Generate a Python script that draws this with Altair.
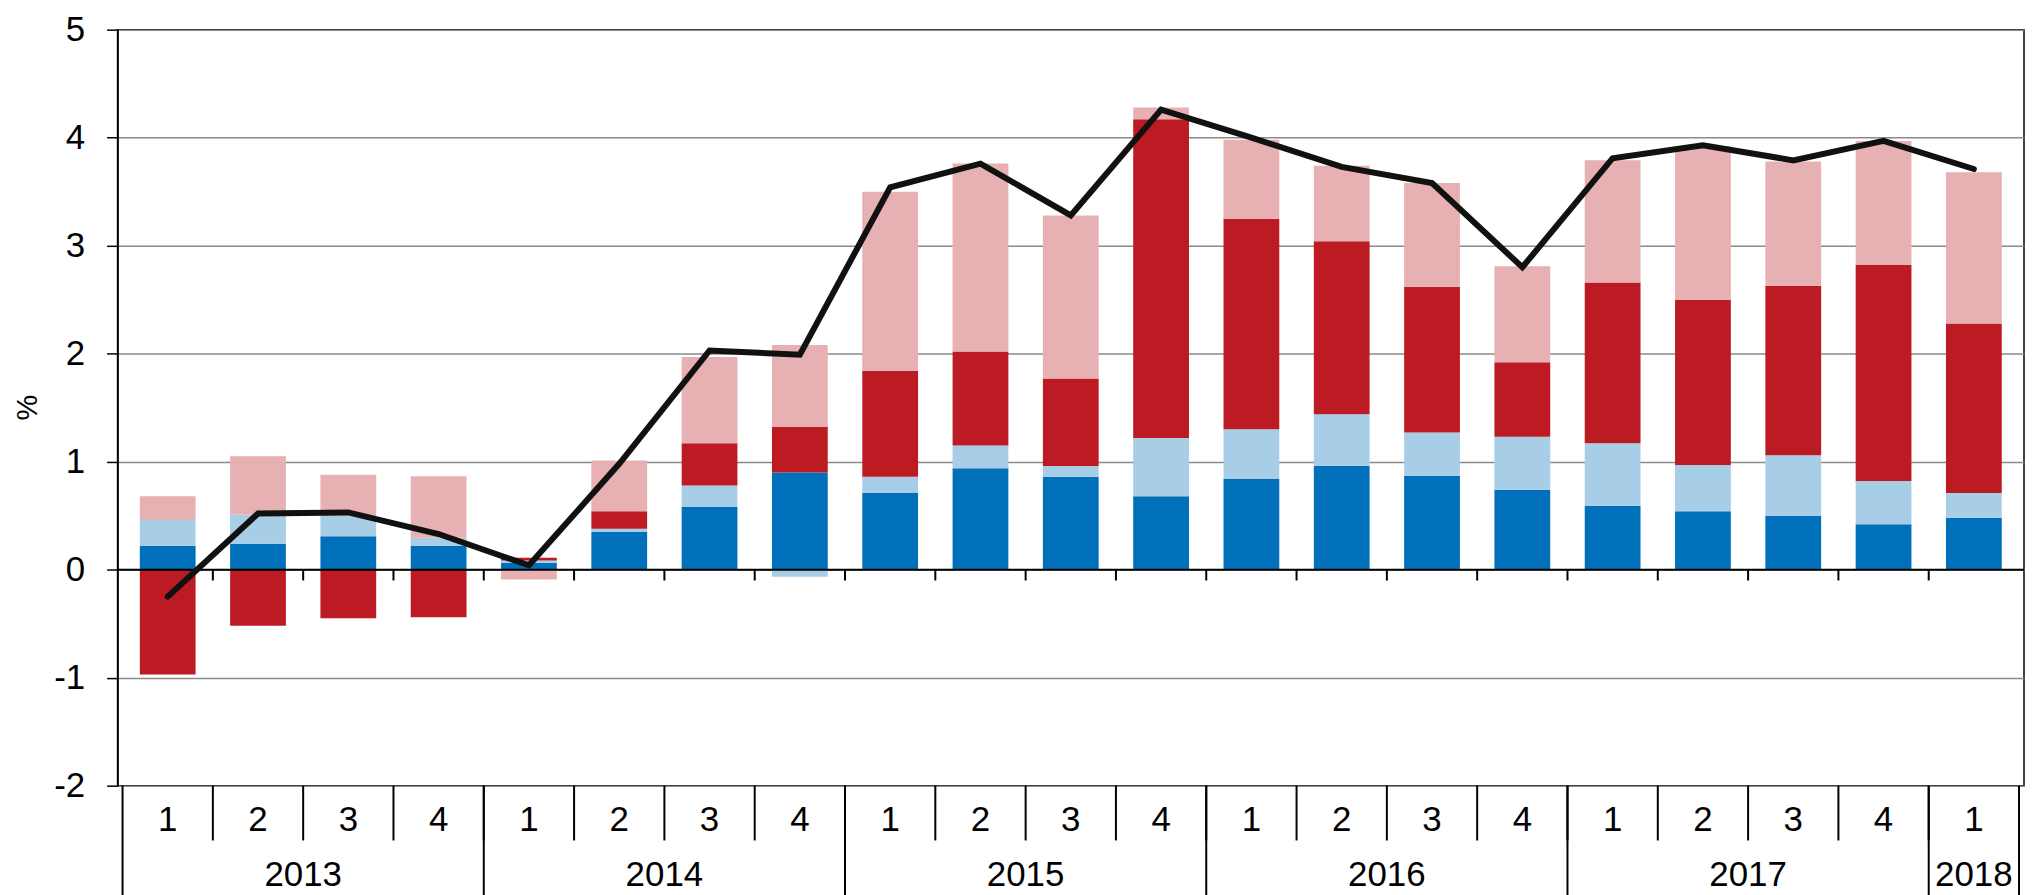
import altair as alt
import pandas as pd

# ---- data ----
years    = [2013]*4 + [2014]*4 + [2015]*4 + [2016]*4 + [2017]*4 + [2018]
quarters = [1, 2, 3, 4]*5 + [1]

blue      = [0.22, 0.24, 0.31, 0.22, 0.065, 0.35, 0.58, 0.90, 0.71, 0.94, 0.86, 0.68, 0.84, 0.96, 0.87, 0.74, 0.59, 0.54, 0.50, 0.42, 0.48]
lightblue = [0.24, 0.27, 0.19, 0.075, 0.02, 0.03, 0.20, -0.065, 0.15, 0.21, 0.10, 0.54, 0.46, 0.48, 0.40, 0.49, 0.58, 0.43, 0.56, 0.40, 0.23]
red       = [-0.97, -0.52, -0.45, -0.44, 0.025, 0.16, 0.39, 0.42, 0.98, 0.87, 0.81, 2.95, 1.95, 1.60, 1.35, 0.69, 1.49, 1.53, 1.57, 2.00, 1.57]
pink      = [0.22, 0.54, 0.38, 0.57, -0.09, 0.47, 0.80, 0.76, 1.66, 1.74, 1.51, 0.11, 0.73, 0.70, 0.96, 0.89, 1.13, 1.42, 1.15, 1.15, 1.40]
total     = [-0.25, 0.52, 0.53, 0.33, 0.04, 0.98, 2.03, 1.99, 3.54, 3.76, 3.28, 4.26, 4.00, 3.73, 3.58, 2.80, 3.81, 3.93, 3.79, 3.97, 3.71]

series_names  = ["Komponente 1", "Komponente 2", "Komponente 3", "Komponente 4"]
series_colors = ["#0070BA", "#A7CDE7", "#BC1B23", "#E7B0B3"]

FONT = "Liberation Sans"
W, H = 1914, 759

idx = list(range(len(years)))

rows = []
for s_i, (name, vals) in enumerate(zip(series_names, [blue, lightblue, red, pink])):
    for i, v in zip(idx, vals):
        rows.append({"idx": i, "series": name, "value": v, "order": s_i})
df_bars = pd.DataFrame(rows)
df_line = pd.DataFrame({"idx": idx, "total": total})
df_q = pd.DataFrame({"idx": idx, "q": quarters, "year": years})

# category boundaries (derived from the category table)
q_bounds = pd.DataFrame({"b": [i + 0.5 for i in idx[:-1]], "z0": 0.0, "z1": -0.1})
first_idx = df_q.groupby("year")["idx"].min().tolist()
y_bounds = pd.DataFrame({"b": [i - 0.5 for i in first_idx] + [idx[-1] + 0.5]})

xscale = alt.Scale(domain=[-0.5, idx[-1] + 0.5], nice=False, zero=False)
yscale = alt.Scale(domain=[-2, 5], nice=False, zero=False)

yaxis = alt.Axis(values=list(range(-2, 6)), title=None,
                 labelExpr="'' + datum.value",
                 labelFontSize=35, labelFont=FONT, labelColor="black",
                 tickColor="black", tickSize=11, tickWidth=1.5,
                 domainColor="black", domainWidth=1.5, labelPadding=22,
                 grid=True, gridColor="#8a8a8a", gridWidth=1.5)

X = alt.X("idx:Q", scale=xscale, axis=None)

bars = alt.Chart(df_bars).mark_bar(size=56).encode(
    x=X,
    y=alt.Y("value:Q", stack="zero", scale=yscale, axis=yaxis),
    color=alt.Color("series:N", scale=alt.Scale(domain=series_names, range=series_colors), legend=None),
    order=alt.Order("order:Q"),
)

zero_line = alt.Chart(pd.DataFrame({"z": [0.0]})).mark_rule(color="black", strokeWidth=2).encode(
    y=alt.Y("z:Q", scale=yscale, axis=yaxis)
)

zero_ticks = alt.Chart(q_bounds).mark_rule(color="black", strokeWidth=2).encode(
    x=alt.X("b:Q", scale=xscale, axis=None),
    y=alt.Y("z0:Q", scale=yscale, axis=yaxis),
    y2="z1:Q",
)

line = alt.Chart(df_line).mark_line(color="#111111", strokeWidth=6, strokeCap="round", strokeJoin="miter").encode(
    x=X,
    y=alt.Y("total:Q", scale=yscale, axis=yaxis),
)

q_sep = alt.Chart(q_bounds).mark_rule(color="black", strokeWidth=2).encode(
    x=alt.X("b:Q", scale=xscale, axis=None),
    y=alt.value(H), y2=alt.value(H + 55),
)

y_sep = alt.Chart(y_bounds).mark_rule(color="black", strokeWidth=2).encode(
    x=alt.X("b:Q", scale=xscale, axis=None),
    y=alt.value(H), y2=alt.value(H + 110),
)

q_text = alt.Chart(df_q).mark_text(fontSize=35, font=FONT, color="black", baseline="alphabetic", align="center").encode(
    x=X, y=alt.value(H + 46), text="q:N"
)

y_text = alt.Chart(df_q).transform_aggregate(
    mid="mean(idx)", groupby=["year"]
).mark_text(fontSize=35, font=FONT, color="black", baseline="alphabetic", align="center").encode(
    x=alt.X("mid:Q", scale=xscale, axis=None), y=alt.value(H + 101), text="year:N"
)

pct = alt.Chart(pd.DataFrame({"t": ["%"]})).mark_text(
    fontSize=29, font=FONT, color="black", angle=270, baseline="middle", align="center"
).encode(x=alt.value(-90), y=alt.value(H / 2), text="t:N")

chart = alt.layer(
    bars, zero_line, zero_ticks, line, q_sep, y_sep, q_text, y_text, pct
).properties(
    width=W, height=H,
    autosize=alt.AutoSizeParams(type="none"),
    padding={"left": 110, "top": 20, "right": 1, "bottom": 108},
    background="white",
).configure_view(stroke="black", strokeWidth=1.5)

chart.save("out.html", embed_options={"renderer": "svg", "actions": False})
